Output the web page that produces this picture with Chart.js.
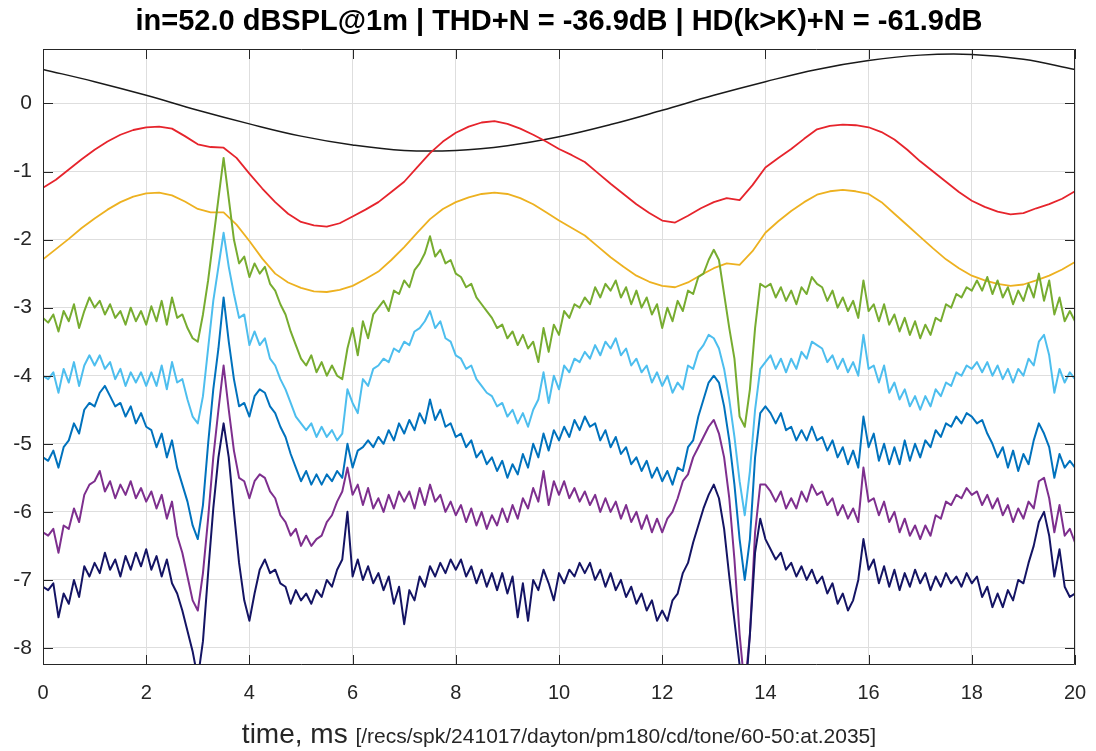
<!DOCTYPE html>
<html>
<head>
<meta charset="utf-8">
<script src="https://cdn.jsdelivr.net/npm/chart.js@4.4.1/dist/chart.umd.min.js"></script>
<style>
  html, body { margin: 0; padding: 0; background: #fff; }
  canvas { display: block; }
</style>
</head>
<body>
<canvas id="chart" width="1096" height="751"></canvas>
<script>
// time grids (ms)
const coarseTime = Array.from({ length: 21 }, (_, i) => i);
const midTime = Array.from({ length: 81 }, (_, i) => i * 0.25);
const fineTime = Array.from({ length: 201 }, (_, i) => i / 10);

const xTicks = [0, 2, 4, 6, 8, 10, 12, 14, 16, 18, 20];
const yTicks = [0, -1, -2, -3, -4, -5, -6, -7, -8];

const titleText = 'in=52.0 dBSPL@1m | THD+N = -36.9dB | HD(k>K)+N = -61.9dB';
const xLabel = 'time, ms';
const xNote = '[/recs/spk/241017/dayton/pm180/cd/tone/60-50:at.2035]';

// input tone, every 1 ms
const inputWave = [0.50, 0.32, 0.12, -0.10, -0.30, -0.48, -0.61, -0.69, -0.69, -0.62, -0.49,
  -0.31, -0.10, 0.12, 0.32, 0.50, 0.63, 0.71, 0.72, 0.65, 0.50];

// every 0.25 ms
const redWave = [-1.24, -1.12, -0.97, -0.82, -0.68, -0.56, -0.46, -0.39, -0.35, -0.34, -0.37, -0.48,
  -0.60, -0.64, -0.65, -0.80, -1.03, -1.25, -1.45, -1.62, -1.74, -1.79, -1.81, -1.76,
  -1.66, -1.56, -1.45, -1.30, -1.15, -0.94, -0.73, -0.56, -0.43, -0.34, -0.28, -0.26,
  -0.30, -0.37, -0.46, -0.56, -0.67, -0.76, -0.86, -1.02, -1.18, -1.33, -1.48, -1.61,
  -1.72, -1.75, -1.65, -1.54, -1.45, -1.39, -1.42, -1.20, -0.94, -0.80, -0.67, -0.52,
  -0.38, -0.33, -0.31, -0.32, -0.35, -0.42, -0.53, -0.68, -0.85, -1.00, -1.15, -1.30,
  -1.43, -1.52, -1.59, -1.63, -1.61, -1.54, -1.48, -1.40, -1.29];

const yellowWave = [-2.29, -2.14, -1.99, -1.83, -1.69, -1.56, -1.45, -1.37, -1.32, -1.31, -1.35, -1.44,
  -1.55, -1.60, -1.60, -1.78, -2.02, -2.28, -2.50, -2.63, -2.71, -2.76, -2.77, -2.74,
  -2.68, -2.58, -2.47, -2.30, -2.11, -1.90, -1.70, -1.55, -1.45, -1.38, -1.33, -1.31,
  -1.33, -1.39, -1.48, -1.60, -1.72, -1.83, -1.94, -2.10, -2.26, -2.40, -2.53, -2.62,
  -2.68, -2.70, -2.63, -2.52, -2.42, -2.35, -2.37, -2.17, -1.90, -1.73, -1.58, -1.45,
  -1.34, -1.29, -1.27, -1.29, -1.33, -1.45, -1.62, -1.79, -1.96, -2.13, -2.29, -2.42,
  -2.53, -2.60, -2.65, -2.68, -2.66, -2.60, -2.53, -2.44, -2.33];

// every 0.1 ms
const greenWave = [
  -3.15, -3.22, -3.10, -3.35, -3.05, -3.20, -2.95, -3.30, -3.05, -2.85,
  -3.00, -2.90, -3.10, -2.95, -3.15, -3.05, -3.25, -3.00, -3.20, -3.05,
  -3.25, -2.98, -3.20, -2.90, -3.25, -2.85, -3.15, -3.10, -3.30, -3.45,
  -3.50, -3.10, -2.60, -2.00, -1.40, -0.80, -1.40, -2.00, -2.35, -2.25,
  -2.55, -2.35, -2.50, -2.40, -2.65, -2.75, -2.95, -3.10, -3.35, -3.55,
  -3.75, -3.85, -3.70, -3.95, -3.80, -4.00, -3.85, -4.00, -4.05, -3.60,
  -3.30, -3.70, -3.20, -3.45, -3.10, -3.00, -2.90, -3.05, -2.75, -2.80,
  -2.60, -2.70, -2.45, -2.35, -2.20, -1.95, -2.25, -2.15, -2.35, -2.30,
  -2.50, -2.55, -2.70, -2.65, -2.85, -2.95, -3.05, -3.15, -3.30, -3.25,
  -3.45, -3.35, -3.55, -3.40, -3.60, -3.50, -3.80, -3.30, -3.65, -3.25,
  -3.40, -3.05, -3.15, -2.95, -3.00, -2.85, -2.95, -2.70, -2.85, -2.65,
  -2.75, -2.60, -2.85, -2.70, -2.95, -2.75, -3.00, -2.85, -3.10, -2.95,
  -3.30, -3.00, -3.20, -2.90, -3.05, -2.75, -2.80, -2.55, -2.50, -2.30,
  -2.15, -2.30, -2.80, -3.30, -3.75, -4.60, -4.75, -4.20, -3.30, -2.65,
  -2.70, -2.65, -2.85, -2.70, -2.90, -2.75, -2.95, -2.70, -2.80, -2.55,
  -2.65, -2.70, -2.90, -2.75, -3.00, -2.85, -3.05, -2.90, -3.15, -2.60,
  -3.05, -2.95, -3.20, -2.95, -3.25, -3.10, -3.35, -3.15, -3.40, -3.20,
  -3.45, -3.25, -3.40, -3.15, -3.20, -2.95, -3.00, -2.80, -2.85, -2.70,
  -2.75, -2.60, -2.75, -2.55, -2.80, -2.60, -2.85, -2.70, -2.95, -2.75,
  -2.90, -2.65, -2.85, -2.50, -2.90, -2.60, -3.10, -2.85, -3.20, -3.05,
  -3.20];

const lightBlueWave = [
  -4.00, -4.05, -3.95, -4.25, -3.90, -4.10, -3.80, -4.15, -3.85, -3.70,
  -3.85, -3.70, -3.90, -3.80, -4.05, -3.90, -4.15, -3.95, -4.10, -3.95,
  -4.15, -3.95, -4.15, -3.85, -4.20, -3.80, -4.10, -4.05, -4.35, -4.60,
  -4.70, -4.30, -3.60, -2.90, -2.40, -1.90, -2.40, -2.80, -3.15, -3.10,
  -3.55, -3.35, -3.55, -3.45, -3.75, -3.85, -4.05, -4.20, -4.40, -4.60,
  -4.70, -4.80, -4.70, -4.90, -4.75, -4.90, -4.80, -4.95, -4.85, -4.20,
  -4.40, -4.55, -4.05, -4.15, -3.90, -3.85, -3.75, -3.80, -3.60, -3.65,
  -3.50, -3.55, -3.35, -3.30, -3.20, -3.05, -3.30, -3.20, -3.45, -3.50,
  -3.70, -3.75, -3.90, -3.85, -4.05, -4.15, -4.25, -4.30, -4.45, -4.40,
  -4.60, -4.50, -4.70, -4.55, -4.75, -4.50, -4.35, -3.95, -4.40, -4.00,
  -4.20, -3.85, -3.95, -3.75, -3.80, -3.65, -3.75, -3.55, -3.70, -3.50,
  -3.60, -3.45, -3.70, -3.60, -3.85, -3.75, -3.95, -3.85, -4.10, -3.95,
  -4.15, -4.00, -4.25, -4.10, -4.20, -3.85, -3.90, -3.65, -3.55, -3.40,
  -3.45, -3.60, -3.90, -4.35, -4.90, -5.55, -6.05, -5.40, -4.50, -3.90,
  -3.80, -3.70, -3.90, -3.75, -3.95, -3.75, -3.90, -3.65, -3.75, -3.50,
  -3.55, -3.60, -3.80, -3.70, -3.90, -3.75, -3.95, -3.80, -4.00, -3.40,
  -3.90, -3.85, -4.10, -3.85, -4.25, -4.10, -4.35, -4.20, -4.45, -4.30,
  -4.50, -4.30, -4.45, -4.20, -4.30, -4.10, -4.15, -3.95, -4.00, -3.85,
  -3.90, -3.80, -3.95, -3.80, -4.00, -3.85, -4.05, -3.90, -4.10, -3.90,
  -4.00, -3.75, -3.85, -3.50, -3.40, -3.70, -4.25, -3.90, -4.10, -3.95,
  -4.05];

const blueWave = [
  -5.20, -5.25, -5.10, -5.35, -5.05, -4.95, -4.70, -4.85, -4.50, -4.40,
  -4.45, -4.25, -4.15, -4.30, -4.45, -4.40, -4.60, -4.45, -4.70, -4.55,
  -4.75, -4.80, -5.05, -4.85, -5.20, -4.95, -5.35, -5.60, -5.85, -6.20,
  -6.40, -5.90, -5.00, -4.20, -3.60, -2.85, -3.50, -4.05, -4.45, -4.40,
  -4.60, -4.30, -4.20, -4.25, -4.45, -4.55, -4.75, -4.90, -5.15, -5.35,
  -5.55, -5.40, -5.60, -5.45, -5.60, -5.45, -5.55, -5.40, -5.50, -5.00,
  -5.35, -5.10, -5.05, -4.95, -5.05, -4.90, -5.00, -4.80, -4.95, -4.70,
  -4.85, -4.65, -4.80, -4.55, -4.70, -4.35, -4.65, -4.50, -4.75, -4.70,
  -4.90, -4.85, -5.05, -4.95, -5.20, -5.10, -5.30, -5.20, -5.40, -5.25,
  -5.50, -5.30, -5.45, -5.15, -5.35, -5.00, -5.20, -4.85, -5.10, -4.80,
  -4.95, -4.75, -4.90, -4.65, -4.80, -4.60, -4.75, -4.70, -4.95, -4.80,
  -5.05, -4.90, -5.15, -5.05, -5.30, -5.20, -5.40, -5.25, -5.50, -5.35,
  -5.55, -5.40, -5.60, -5.35, -5.40, -5.05, -4.95, -4.60, -4.35, -4.10,
  -4.00, -4.10, -4.45, -4.95, -5.60, -6.40, -7.00, -6.40, -5.20, -4.55,
  -4.45, -4.55, -4.70, -4.55, -4.80, -4.75, -4.95, -4.80, -4.95, -4.75,
  -4.95, -4.90, -5.10, -4.95, -5.20, -5.05, -5.30, -5.10, -5.35, -4.60,
  -5.05, -4.85, -5.25, -5.00, -5.30, -5.05, -5.30, -4.95, -5.25, -5.00,
  -5.20, -4.95, -5.05, -4.80, -4.90, -4.70, -4.75, -4.60, -4.70, -4.55,
  -4.60, -4.70, -4.65, -4.85, -5.00, -5.20, -5.05, -5.35, -5.10, -5.40,
  -5.15, -5.30, -4.95, -4.70, -4.85, -5.05, -5.50, -5.15, -5.35, -5.25,
  -5.35];

const purpleWave = [
  -6.30, -6.35, -6.25, -6.60, -6.20, -6.25, -5.95, -6.15, -5.75, -5.60,
  -5.55, -5.40, -5.70, -5.55, -5.80, -5.60, -5.75, -5.55, -5.80, -5.65,
  -5.85, -5.70, -5.95, -5.75, -6.10, -5.85, -6.35, -6.60, -6.95, -7.30,
  -7.45, -6.90, -6.10, -5.20, -4.50, -3.85, -4.50, -5.10, -5.50, -5.55,
  -5.80, -5.55, -5.45, -5.50, -5.70, -5.80, -6.05, -6.15, -6.35, -6.25,
  -6.50, -6.35, -6.50, -6.40, -6.35, -6.15, -6.05, -5.85, -5.70, -5.35,
  -5.75, -5.60, -5.90, -5.65, -5.95, -5.80, -6.00, -5.75, -5.95, -5.70,
  -5.85, -5.70, -5.95, -5.65, -5.90, -5.60, -5.85, -5.75, -6.00, -5.85,
  -6.05, -5.90, -6.15, -5.95, -6.20, -6.00, -6.25, -6.05, -6.20, -5.95,
  -6.15, -5.90, -6.10, -5.80, -5.95, -5.65, -5.85, -5.40, -5.90, -5.55,
  -5.75, -5.55, -5.80, -5.65, -5.85, -5.70, -5.90, -5.75, -6.00, -5.80,
  -6.00, -5.85, -6.10, -5.90, -6.15, -6.00, -6.25, -6.05, -6.30, -6.10,
  -6.30, -6.10, -6.00, -5.80, -5.55, -5.45, -5.20, -5.05, -4.90, -4.75,
  -4.65, -4.85, -5.20, -5.80, -6.70, -7.80, -8.60, -7.80, -6.30, -5.60,
  -5.60, -5.70, -5.85, -5.70, -5.95, -5.80, -5.95, -5.70, -5.85, -5.60,
  -5.75, -5.70, -5.90, -5.80, -6.05, -5.90, -6.10, -5.95, -6.15, -5.35,
  -5.85, -5.80, -6.05, -5.85, -6.15, -6.00, -6.30, -6.10, -6.35, -6.20,
  -6.40, -6.20, -6.35, -6.05, -6.10, -5.85, -5.90, -5.75, -5.80, -5.65,
  -5.75, -5.70, -5.90, -5.75, -5.95, -5.80, -6.05, -5.90, -6.15, -5.95,
  -6.10, -5.85, -5.95, -5.55, -5.50, -5.80, -6.30, -5.90, -6.35, -6.25,
  -6.45];

const navyWave = [
  -7.10, -7.15, -7.05, -7.55, -7.20, -7.35, -7.00, -7.25, -6.80, -6.95,
  -6.75, -6.90, -6.60, -6.85, -6.70, -6.95, -6.65, -6.85, -6.60, -6.80,
  -6.55, -6.85, -6.65, -6.95, -6.70, -7.05, -7.20, -7.45, -7.75, -8.05,
  -8.45, -7.90, -6.90, -5.95, -5.20, -4.70, -5.20, -6.00, -6.75, -7.30,
  -7.60, -7.20, -6.85, -6.70, -6.90, -6.85, -7.05, -7.10, -7.35, -7.15,
  -7.30, -7.20, -7.35, -7.15, -7.25, -7.00, -7.10, -6.85, -6.70, -6.00,
  -6.95, -6.70, -7.00, -6.80, -7.05, -6.90, -7.15, -6.95, -7.35, -7.10,
  -7.65, -7.15, -7.30, -6.95, -7.10, -6.80, -6.95, -6.75, -6.90, -6.70,
  -6.85, -6.70, -6.95, -6.80, -7.05, -6.85, -7.10, -6.90, -7.15, -6.90,
  -7.20, -6.95, -7.55, -7.05, -7.60, -7.00, -7.15, -6.85, -7.05, -7.30,
  -6.90, -7.05, -6.85, -6.95, -6.75, -6.90, -6.75, -7.00, -6.85, -7.10,
  -6.90, -7.15, -7.00, -7.25, -7.10, -7.35, -7.20, -7.45, -7.30, -7.60,
  -7.45, -7.60, -7.30, -7.20, -6.90, -6.75, -6.45, -6.20, -5.95, -5.75,
  -5.60, -5.80, -6.25, -6.95, -7.60, -8.25, -8.80, -7.80, -6.60, -6.10,
  -6.40, -6.55, -6.70, -6.60, -6.85, -6.75, -6.95, -6.80, -7.00, -6.85,
  -7.05, -6.95, -7.20, -7.05, -7.35, -7.20, -7.45, -7.30, -7.00, -6.40,
  -6.85, -6.70, -7.05, -6.80, -7.10, -6.85, -7.15, -6.90, -7.10, -6.85,
  -7.05, -6.90, -7.15, -6.95, -7.10, -6.90, -7.05, -6.95, -7.10, -6.90,
  -7.05, -6.95, -7.25, -7.10, -7.40, -7.20, -7.40, -7.15, -7.30, -7.00,
  -7.05, -6.75, -6.50, -6.15, -6.00, -6.35, -6.95, -6.55, -7.10, -7.25,
  -7.20];

const series = [
  { times: coarseTime, values: inputWave, color: '#1a1a1a', width: 1.5, smooth: true },
  { times: midTime, values: redWave, color: '#e6242c', width: 1.8, smooth: false },
  { times: midTime, values: yellowWave, color: '#edb120', width: 1.8, smooth: false },
  { times: fineTime, values: greenWave, color: '#77ac30', width: 2, smooth: false },
  { times: fineTime, values: lightBlueWave, color: '#4dbeee', width: 2, smooth: false },
  { times: fineTime, values: blueWave, color: '#0072bd', width: 2, smooth: false },
  { times: fineTime, values: purpleWave, color: '#7e2f8e', width: 2, smooth: false },
  { times: fineTime, values: navyWave, color: '#141464', width: 2, smooth: false }
];

const axisColor = '#262626';
const fontFamily = '"Liberation Sans", Arial, Helvetica, sans-serif';

// box round the axes, MATLAB-like inward ticks, title centred on the axes, x label line
const boxPlugin = {
  id: 'boxPlugin',
  afterDatasetsDraw(chart) {
    const { ctx, chartArea: a, scales } = chart;
    const tl = 10;
    ctx.save();
    ctx.strokeStyle = axisColor;
    ctx.lineWidth = 1;
    ctx.beginPath();
    ctx.rect(Math.round(a.left) + 0.5, Math.round(a.top) + 0.5,
      Math.round(a.right - a.left) - 1, Math.round(a.bottom - a.top) - 1);
    xTicks.forEach(v => {
      const px = Math.round(scales.x.getPixelForValue(v)) + 0.5;
      ctx.moveTo(px, a.bottom); ctx.lineTo(px, a.bottom - tl);
      ctx.moveTo(px, a.top); ctx.lineTo(px, a.top + tl);
    });
    yTicks.forEach(v => {
      const py = Math.round(scales.y.getPixelForValue(v)) + 0.5;
      ctx.moveTo(a.left, py); ctx.lineTo(a.left + tl, py);
      ctx.moveTo(a.right, py); ctx.lineTo(a.right - tl, py);
    });
    ctx.stroke();

    const cx = (a.left + a.right) / 2;
    ctx.textBaseline = 'alphabetic';

    // title
    ctx.fillStyle = '#000';
    ctx.textAlign = 'center';
    ctx.font = 'bold 29px ' + fontFamily;
    ctx.fillText(titleText, cx, 30);

    // x axis label: main text plus smaller path note, centred together
    const labelFont = '28px ' + fontFamily;
    const noteFont = '21px ' + fontFamily;
    ctx.font = labelFont;
    const w1 = ctx.measureText(xLabel + ' ').width;
    ctx.font = noteFont;
    const w2 = ctx.measureText(xNote).width;
    const x0 = cx - (w1 + w2) / 2;
    const base = 743;
    ctx.fillStyle = axisColor;
    ctx.textAlign = 'left';
    ctx.font = labelFont;
    ctx.fillText(xLabel, x0, base);
    ctx.font = noteFont;
    ctx.fillText(xNote, x0 + w1, base);
    ctx.restore();
  }
};

const datasets = series.map((s, i) => ({
  data: s.values.map((v, k) => ({ x: s.times[k], y: v })),
  borderColor: s.color,
  borderWidth: s.width,
  pointRadius: 0,
  fill: false,
  tension: s.smooth ? 0.4 : 0,
  borderJoinStyle: 'round',
  order: series.length - i
}));

new Chart(document.getElementById('chart'), {
  type: 'line',
  data: { datasets: datasets },
  options: {
    responsive: false,
    animation: false,
    devicePixelRatio: 1,
    layout: { padding: { top: 49, right: 21, bottom: 0, left: 0 } },
    plugins: {
      legend: { display: false },
      tooltip: { enabled: false },
      title: { display: false }
    },
    scales: {
      x: {
        type: 'linear',
        min: 0,
        max: 20,
        afterBuildTicks: scale => { scale.ticks = xTicks.map(v => ({ value: v })); },
        afterFit: scale => {
          scale.height = 86;
          scale.paddingLeft = 0;
          scale.paddingRight = 0;
        },
        ticks: {
          color: axisColor,
          font: { family: fontFamily, size: 20 },
          padding: 16,
          maxRotation: 0,
          autoSkip: false
        },
        grid: { color: '#dedede', lineWidth: 1, drawTicks: false },
        border: { display: false }
      },
      y: {
        type: 'linear',
        min: -8.25,
        max: 0.8,
        afterBuildTicks: scale => { scale.ticks = yTicks.slice().reverse().map(v => ({ value: v })); },
        afterFit: scale => {
          scale.width = 43;
          scale.paddingTop = 0;
          scale.paddingBottom = 0;
        },
        ticks: {
          color: axisColor,
          font: { family: fontFamily, size: 21 },
          padding: 11,
          autoSkip: false
        },
        grid: { color: '#dedede', lineWidth: 1, drawTicks: false },
        border: { display: false }
      }
    }
  },
  plugins: [boxPlugin]
});
</script>
</body>
</html>
